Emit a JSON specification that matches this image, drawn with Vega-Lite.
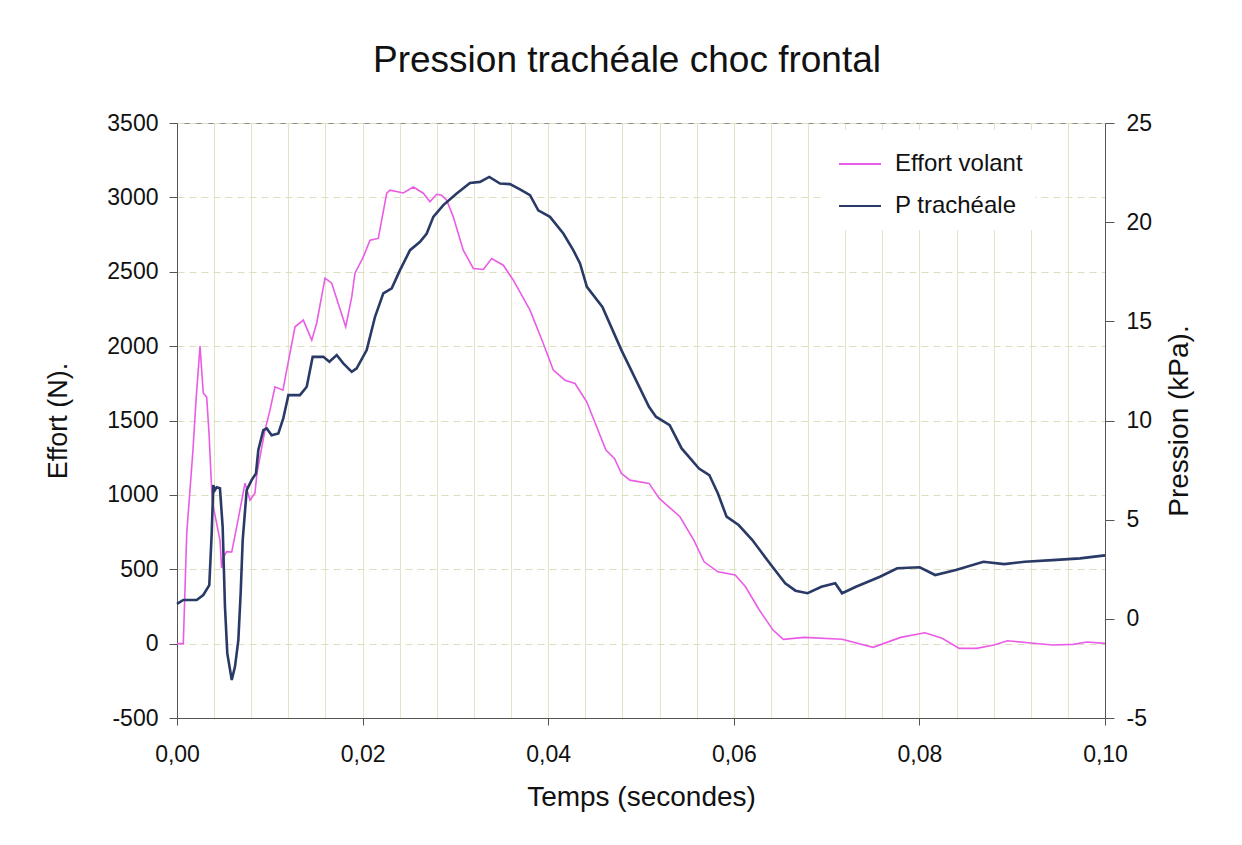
{
  "$schema": "https://vega.github.io/schema/vega-lite/v6.json",
  "width": 928,
  "height": 595,
  "autosize": {"type": "none"},
  "padding": {"left": 177, "top": 123, "right": 137, "bottom": 127},
  "background": "white",
  "title": {"text": "Pression trachéale choc frontal", "fontSize": 37, "font": "Liberation Sans", "fontWeight": "normal", "color": "#111111", "offset": 32, "dx": -14},
  "config": {"view": {"stroke": "#8a8a8a", "strokeWidth": 1}, "font": "Liberation Sans"},
  "datasets": {
    "effort": [
      {"t": 0, "effort": 0}, {"t": 0.00068, "effort": 0}, {"t": 0.00105, "effort": 743}, {"t": 0.00172, "effort": 1301},
      {"t": 0.00205, "effort": 1637}, {"t": 0.00248, "effort": 2000}, {"t": 0.00283, "effort": 1685}, {"t": 0.0032, "effort": 1657},
      {"t": 0.00345, "effort": 1415}, {"t": 0.00374, "effort": 1032}, {"t": 0.00388, "effort": 931}, {"t": 0.00463, "effort": 696},
      {"t": 0.00481, "effort": 508}, {"t": 0.00496, "effort": 575}, {"t": 0.00536, "effort": 618}, {"t": 0.0059, "effort": 616},
      {"t": 0.00644, "effort": 786}, {"t": 0.00733, "effort": 1079}, {"t": 0.00787, "effort": 965}, {"t": 0.0084, "effort": 1012},
      {"t": 0.00862, "effort": 1146}, {"t": 0.00948, "effort": 1435}, {"t": 0.01002, "effort": 1570}, {"t": 0.01056, "effort": 1726},
      {"t": 0.01142, "effort": 1704}, {"t": 0.01182, "effort": 1839}, {"t": 0.01272, "effort": 2130}, {"t": 0.01361, "effort": 2175},
      {"t": 0.01452, "effort": 2040}, {"t": 0.01505, "effort": 2154}, {"t": 0.01595, "effort": 2457}, {"t": 0.01667, "effort": 2423},
      {"t": 0.01818, "effort": 2130}, {"t": 0.01883, "effort": 2331}, {"t": 0.01918, "effort": 2490}, {"t": 0.02008, "effort": 2600},
      {"t": 0.0208, "effort": 2712}, {"t": 0.02169, "effort": 2724}, {"t": 0.0226, "effort": 3028}, {"t": 0.02295, "effort": 3048},
      {"t": 0.02439, "effort": 3030}, {"t": 0.02547, "effort": 3070}, {"t": 0.02654, "effort": 3028}, {"t": 0.02726, "effort": 2970},
      {"t": 0.02798, "effort": 3021}, {"t": 0.02852, "effort": 3015}, {"t": 0.02906, "effort": 2981}, {"t": 0.02977, "effort": 2869},
      {"t": 0.03085, "effort": 2645}, {"t": 0.03193, "effort": 2522}, {"t": 0.03301, "effort": 2515}, {"t": 0.03391, "effort": 2589},
      {"t": 0.03516, "effort": 2544}, {"t": 0.03624, "effort": 2443}, {"t": 0.03804, "effort": 2242}, {"t": 0.03947, "effort": 2018},
      {"t": 0.04055, "effort": 1839}, {"t": 0.04181, "effort": 1771}, {"t": 0.04289, "effort": 1749}, {"t": 0.04415, "effort": 1626},
      {"t": 0.04622, "effort": 1301}, {"t": 0.04714, "effort": 1245}, {"t": 0.04789, "effort": 1144}, {"t": 0.04881, "effort": 1099},
      {"t": 0.05086, "effort": 1077}, {"t": 0.05197, "effort": 976}, {"t": 0.0542, "effort": 853}, {"t": 0.05569, "effort": 696},
      {"t": 0.0568, "effort": 550}, {"t": 0.05829, "effort": 483}, {"t": 0.06015, "effort": 461}, {"t": 0.06126, "effort": 382},
      {"t": 0.06275, "effort": 226}, {"t": 0.06423, "effort": 91}, {"t": 0.06534, "effort": 29}, {"t": 0.06758, "effort": 42},
      {"t": 0.07167, "effort": 29}, {"t": 0.07501, "effort": -25}, {"t": 0.07798, "effort": 42}, {"t": 0.08058, "effort": 73},
      {"t": 0.08245, "effort": 36}, {"t": 0.0843, "effort": -32}, {"t": 0.08616, "effort": -32}, {"t": 0.08802, "effort": -9},
      {"t": 0.0895, "effort": 19}, {"t": 0.09174, "effort": 6}, {"t": 0.09433, "effort": -9}, {"t": 0.09656, "effort": -5},
      {"t": 0.09805, "effort": 11}, {"t": 0.1, "effort": 2}
    ],
    "pression": [
      {"t": 0, "p": 0.75}, {"t": 0.00068, "p": 0.95}, {"t": 0.00212, "p": 0.95}, {"t": 0.00283, "p": 1.2},
      {"t": 0.00348, "p": 1.7}, {"t": 0.00374, "p": 4.32}, {"t": 0.00391, "p": 6.74}, {"t": 0.00409, "p": 6.49},
      {"t": 0.00428, "p": 6.63}, {"t": 0.00463, "p": 6.58}, {"t": 0.00492, "p": 4.64}, {"t": 0.00517, "p": 0.61},
      {"t": 0.00542, "p": -1.74}, {"t": 0.0059, "p": -3.08}, {"t": 0.00625, "p": -2.41}, {"t": 0.00661, "p": -1.07},
      {"t": 0.00686, "p": 1.29}, {"t": 0.00708, "p": 3.97}, {"t": 0.00751, "p": 6.49}, {"t": 0.00805, "p": 7.0},
      {"t": 0.00851, "p": 7.33}, {"t": 0.00876, "p": 8.5}, {"t": 0.0093, "p": 9.51}, {"t": 0.00967, "p": 9.6},
      {"t": 0.0102, "p": 9.26}, {"t": 0.01092, "p": 9.35}, {"t": 0.01145, "p": 10.1}, {"t": 0.01189, "p": 11.03},
      {"t": 0.012, "p": 11.28}, {"t": 0.01325, "p": 11.28}, {"t": 0.01398, "p": 11.7}, {"t": 0.01462, "p": 13.21},
      {"t": 0.01577, "p": 13.21}, {"t": 0.01642, "p": 12.96}, {"t": 0.01721, "p": 13.3}, {"t": 0.01792, "p": 12.88},
      {"t": 0.01883, "p": 12.45}, {"t": 0.01936, "p": 12.63}, {"t": 0.02044, "p": 13.55}, {"t": 0.02134, "p": 15.23},
      {"t": 0.02223, "p": 16.41}, {"t": 0.02314, "p": 16.66}, {"t": 0.02403, "p": 17.58}, {"t": 0.02511, "p": 18.59},
      {"t": 0.02619, "p": 19.01}, {"t": 0.02691, "p": 19.43}, {"t": 0.02762, "p": 20.27}, {"t": 0.0287, "p": 20.86},
      {"t": 0.03014, "p": 21.45}, {"t": 0.03157, "p": 21.98}, {"t": 0.03265, "p": 22.03}, {"t": 0.03365, "p": 22.28},
      {"t": 0.03481, "p": 21.95}, {"t": 0.03588, "p": 21.92}, {"t": 0.03696, "p": 21.65}, {"t": 0.03804, "p": 21.36},
      {"t": 0.03893, "p": 20.6}, {"t": 0.04019, "p": 20.27}, {"t": 0.04163, "p": 19.43}, {"t": 0.0427, "p": 18.59},
      {"t": 0.04343, "p": 17.92}, {"t": 0.04417, "p": 16.74}, {"t": 0.04584, "p": 15.73}, {"t": 0.04789, "p": 13.55},
      {"t": 0.05086, "p": 10.69}, {"t": 0.05161, "p": 10.19}, {"t": 0.05309, "p": 9.77}, {"t": 0.05438, "p": 8.59},
      {"t": 0.05625, "p": 7.58}, {"t": 0.05736, "p": 7.25}, {"t": 0.05829, "p": 6.32}, {"t": 0.05922, "p": 5.15},
      {"t": 0.06052, "p": 4.73}, {"t": 0.062, "p": 3.97}, {"t": 0.06387, "p": 2.8}, {"t": 0.06554, "p": 1.79},
      {"t": 0.06665, "p": 1.42}, {"t": 0.06795, "p": 1.29}, {"t": 0.06944, "p": 1.62}, {"t": 0.07093, "p": 1.79},
      {"t": 0.07167, "p": 1.29}, {"t": 0.07316, "p": 1.62}, {"t": 0.07575, "p": 2.12}, {"t": 0.07761, "p": 2.55},
      {"t": 0.08003, "p": 2.6}, {"t": 0.0817, "p": 2.21}, {"t": 0.08393, "p": 2.46}, {"t": 0.0869, "p": 2.88},
      {"t": 0.08913, "p": 2.76}, {"t": 0.09136, "p": 2.88}, {"t": 0.09433, "p": 2.96}, {"t": 0.09731, "p": 3.05},
      {"t": 0.1, "p": 3.2}
    ]
  },
  "layer": [
    {
      "data": {"name": "effort"},
      "mark": {"type": "line", "strokeWidth": 1.6, "interpolate": "linear"},
      "encoding": {
        "x": {
          "field": "t", "type": "quantitative",
          "scale": {"domain": [0, 0.1], "nice": false, "zero": false},
          "axis": {
            "title": "Temps (secondes)",
            "values": [0, 0.004, 0.008, 0.012, 0.016, 0.02, 0.024, 0.028, 0.032, 0.036, 0.04, 0.044, 0.048, 0.052, 0.056, 0.06, 0.064, 0.068, 0.072, 0.076, 0.08, 0.084, 0.088, 0.092, 0.096, 0.1],
            "tickCount": 40,
            "labelExpr": "abs(datum.value*50 - round(datum.value*50)) < 0.001 ? replace(format(datum.value, '.2f'), '.', ',') : ''",
            "labelOverlap": false,
            "labelFlush": false,
            "labelFontSize": 23,
            "labelColor": "#111111",
            "labelPadding": 18,
            "tickSize": 7,
            "tickColor": {"condition": {"test": "abs(datum.value*50 - round(datum.value*50)) < 0.001", "value": "#555555"}, "value": "transparent"},
            "domainColor": "#555555",
            "grid": true,
            "gridColor": "#e3e3c6",
            "gridWidth": 1,
            "titleFontSize": 28,
            "titleFontWeight": "normal",
            "titleColor": "#111111",
            "titlePadding": 17
          }
        },
        "y": {
          "field": "effort", "type": "quantitative",
          "scale": {"domain": [-500, 3500], "nice": false, "zero": false},
          "axis": {
            "title": "Effort (N).",
            "values": [-500, 0, 500, 1000, 1500, 2000, 2500, 3000, 3500],
            "tickCount": 20,
            "labelExpr": "replace(datum.label, '−', '-')",
            "format": "d",
            "labelFontSize": 23,
            "labelColor": "#111111",
            "labelPadding": 11,
            "tickSize": 8,
            "tickColor": "#555555",
            "domainColor": "#555555",
            "grid": true,
            "gridColor": "#dedebe",
            "gridDash": [7, 5],
            "titleFontSize": 27,
            "titleFontWeight": "normal",
            "titleColor": "#111111",
            "titlePadding": 34
          }
        },
        "color": {
          "datum": "Effort volant", "type": "nominal",
          "scale": {"domain": ["Effort volant", "P trachéale"], "range": ["#ea5ce6", "#2a3a66"]},
          "legend": {
            "orient": "none", "legendX": 649, "legendY": 7,
            "title": null, "fillColor": "white", "padding": 12,
            "symbolType": "stroke", "symbolSize": 1764, "symbolStrokeWidth": 2,
            "labelFontSize": 24, "labelColor": "#111111", "labelOffset": 13, "rowPadding": 8
          }
        }
      }
    },
    {
      "data": {"name": "pression"},
      "mark": {"type": "line", "strokeWidth": 2.6, "interpolate": "linear"},
      "encoding": {
        "x": {"field": "t", "type": "quantitative"},
        "y": {
          "field": "p", "type": "quantitative",
          "scale": {"domain": [-5, 25], "nice": false, "zero": false},
          "axis": {
            "orient": "right",
            "title": "Pression (kPa).",
            "values": [-5, 0, 5, 10, 15, 20, 25],
            "tickCount": 20,
            "labelExpr": "replace(datum.label, '−', '-')",
            "labelFontSize": 23,
            "labelColor": "#111111",
            "labelPadding": 12,
            "tickSize": 9,
            "tickColor": "#555555",
            "domainColor": "#555555",
            "grid": false,
            "titleFontSize": 28,
            "titleFontWeight": "normal",
            "titleColor": "#111111",
            "titleAngle": 270,
            "titleBaseline": "top",
            "titlePadding": 14
          }
        },
        "color": {"datum": "P trachéale", "type": "nominal"}
      }
    }
  ],
  "resolve": {"scale": {"y": "independent"}}
}
